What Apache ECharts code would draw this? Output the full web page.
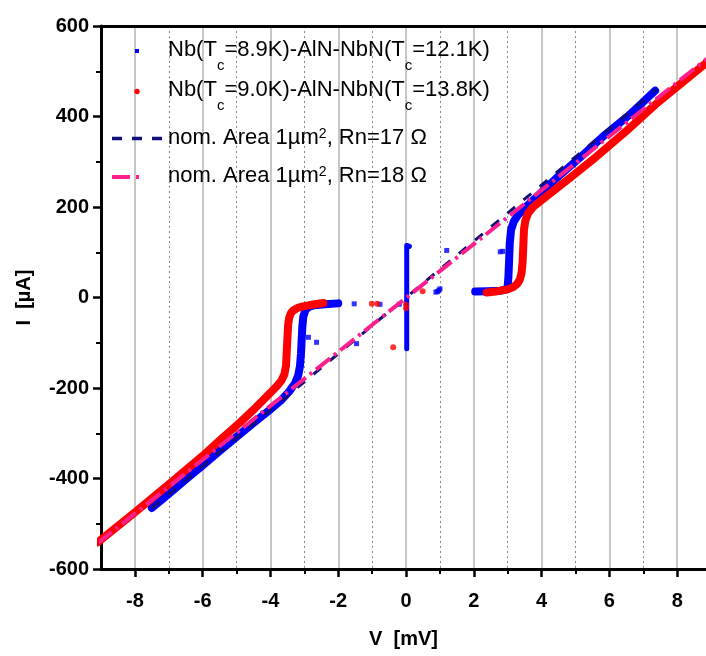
<!DOCTYPE html>
<html><head><meta charset="utf-8">
<script src="https://cdn.jsdelivr.net/npm/echarts@6/dist/echarts.min.js"></script>
<style>html,body{margin:0;padding:0;background:#fff}#c{width:706px;height:656px}</style>
</head><body><div id="c"></div>
<script>
// ---- tick values ----
const xTicksMajor = [-8, -6, -4, -2, 0, 2, 4, 6, 8];
const xTicksMinor = [-7, -5, -3, -1, 1, 3, 5, 7];

// ---- Nb(Tc=8.9K)-AlN-NbN(Tc=12.1K) (blue) ----
const blueNegV = [-7.5,-7.0,-6.5,-6.0,-5.5,-5.0,-4.5,-4.0,-3.7,-3.45,-3.28,-3.18,-3.13,-3.1,-3.08,-3.06,-3.03,-2.97,-2.88,-2.7,-2.4,-2.0];
const blueNegI = [-465,-434,-402,-371,-339,-308,-277,-247,-228,-208,-190,-172,-152,-125,-95,-65,-42,-28,-21,-17,-15,-13];
const bluePosV = [2.04,2.4,2.8,2.96,3.0,3.02,3.04,3.06,3.1,3.18,3.3,3.5,3.8,4.1,4.5,5.1,5.8,6.6,7.35];
const bluePosI = [13,14,15,18,26,45,80,120,150,168,182,198,218,240,268,307,355,404,457];
const blueSuperV = [0.02, 0.02, 0.1];
const blueSuperI = [-113, 115, 113];
const blueDotV = [-2.88,-2.64,-1.53,-1.46,-0.77,-0.2,1.2,2.78,2.85,0.88,0.93,0.97,1.0];
const blueDotI = [-88,-99,-14,-102,-15,-15,104,101,102,12,13,16,19];

// ---- Nb(Tc=9.0K)-AlN-NbN(Tc=13.8K) (red) ----
const redNegV = [-9.1,-8.0,-7.0,-6.0,-5.5,-5.0,-4.5,-4.1,-3.85,-3.68,-3.59,-3.54,-3.52,-3.5,-3.48,-3.45,-3.4,-3.32,-3.2,-3.0,-2.7,-2.44];
const redNegI = [-541,-475,-413,-350,-316,-283,-248,-218,-199,-184,-170,-150,-120,-90,-62,-45,-35,-28,-23,-19,-15,-12];
const redPosV = [2.38,2.7,3.0,3.16,3.28,3.36,3.41,3.44,3.46,3.48,3.52,3.6,3.75,4.15,4.8,5.5,6.5,7.35,8.2,9.0];
const redPosI = [11,14,18,23,30,40,55,80,115,150,170,186,200,224,262,304,368,426,478,527];
const redDotV = [-1.01,-0.85,-0.38,0.49,0.0,0.0];
const redDotI = [-14,-14,-110,14,-16,-24];

// ---- nominal lines ----
const nom17V = [-7.5, 7.4];
const nom17I = [-466, 460];
const nom18V = [-9.1, 9.0];
const nom18I = [-543, 535];

const pair = (xs, ys) => xs.map((x, i) => [x, ys[i]]);

const chart = echarts.init(document.getElementById('c'), null, {renderer: 'canvas'});
const BLUE = '#0000ff', RED = '#ff0000', NAVY = '#10107a', PINK = '#ff1f8c';
const axisFont = {fontFamily: 'Liberation Sans, Arial, sans-serif', fontWeight: 'bold', fontSize: 20, color: '#000'};

const lineSeries = (data, color, width, z) => ({
  type: 'line', data, xAxisIndex: 0, yAxisIndex: 0, showSymbol: false, symbol: 'none',
  lineStyle: {color, width, cap: 'round', join: 'round'}, z, silent: true, animation: false
});

const rich = {
  n: {fontFamily: 'Liberation Sans, Arial, sans-serif', fontSize: 22, lineHeight: 26, verticalAlign: 'top', color: '#000'},
  s: {fontFamily: 'Liberation Sans, Arial, sans-serif', fontSize: 15, lineHeight: 15, padding: [19, 0, 0, 0], verticalAlign: 'top', color: '#000'},
  p: {fontFamily: 'Liberation Sans, Arial, sans-serif', fontSize: 14, lineHeight: 14, verticalAlign: 'top', color: '#000'}
};

chart.setOption({
  animation: false,
  backgroundColor: '#fff',
  grid: {left: 101, right: 0, top: 26, bottom: 87, containLabel: false},
  xAxis: [
    {type: 'value', min: -9, max: 8.85, position: 'bottom',
     axisLine: {onZero: false, lineStyle: {color: '#000', width: 3}},
     axisTick: {customValues: xTicksMajor, length: 8, lineStyle: {color: '#000', width: 2.5}},
     axisLabel: {customValues: xTicksMajor, margin: 22, ...axisFont},
     splitLine: {show: true, lineStyle: {color: '#b4b4b4', width: 1.5, type: 'solid'}},
     name: 'V  [mV]', nameLocation: 'middle', nameGap: 60, nameTextStyle: axisFont},
    {type: 'value', min: -9, max: 8.85, position: 'bottom',
     axisLine: {show: false, onZero: false},
     axisTick: {customValues: xTicksMinor, length: 5, lineStyle: {color: '#000', width: 2}},
     axisLabel: {show: false, customValues: xTicksMinor},
     splitLine: {show: true, lineStyle: {color: '#8c8c8c', width: 1, type: [2, 3]}}},
    {type: 'value', min: -9, max: 8.85, position: 'top',
     axisLine: {show: true, onZero: false, lineStyle: {color: '#000', width: 3}},
     axisTick: {show: false}, axisLabel: {show: false}, splitLine: {show: false}}
  ],
  yAxis: [
    {type: 'value', min: -600, max: 600, interval: 200,
     axisLine: {show: true, onZero: false, lineStyle: {color: '#000', width: 3}},
     axisTick: {show: true, length: 8, lineStyle: {color: '#000', width: 2.5}},
     minorTick: {show: true, splitNumber: 2, length: 5, lineStyle: {color: '#000', width: 2}},
     axisLabel: {margin: 12, ...axisFont},
     splitLine: {show: false},
     name: 'I  [µA]', nameLocation: 'middle', nameGap: 67, nameTextStyle: axisFont}
  ],
  series: [
    lineSeries(pair(blueNegV, blueNegI), BLUE, 8, 2),
    lineSeries(pair(bluePosV, bluePosI), BLUE, 8, 2),
    lineSeries(pair(blueSuperV, blueSuperI), BLUE, 5, 2),
    {type: 'scatter', data: pair(blueDotV, blueDotI), symbol: 'rect', symbolSize: 5, itemStyle: {color: BLUE}, z: 2, silent: true},
    lineSeries(pair(redNegV, redNegI), RED, 8, 3),
    lineSeries(pair(redPosV, redPosI), RED, 8, 3),
    {type: 'scatter', data: pair(redDotV, redDotI), symbol: 'circle', symbolSize: 6, itemStyle: {color: RED}, z: 3, silent: true},
    {type: 'line', data: pair(nom17V, nom17I), showSymbol: false, symbol: 'none', z: 4, silent: true,
     lineStyle: {color: NAVY, width: 3, type: [10, 11]}},
    {type: 'line', data: pair(nom18V, nom18I), showSymbol: false, symbol: 'none', z: 5, silent: true,
     lineStyle: {color: PINK, width: 4, type: [18, 5, 3, 5]}}
  ],
  graphic: [
    {type: 'rect', shape: {x: 135, y: 49, width: 4, height: 4}, style: {fill: BLUE}, z: 10},
    {type: 'circle', shape: {cx: 137, cy: 91.5, r: 2.7}, style: {fill: RED}, z: 10},
    {type: 'line', shape: {x1: 112, y1: 138.5, x2: 162, y2: 138.5}, style: {stroke: NAVY, lineWidth: 3.5, lineDash: [10, 10]}, z: 10},
    {type: 'line', shape: {x1: 112, y1: 177, x2: 140, y2: 177}, style: {stroke: PINK, lineWidth: 4, lineDash: [18, 6, 3, 10]}, z: 10},
    {type: 'text', x: 168, y: 39, z: 10, style: {text: '{n|Nb(T}{s|c}{n|=8.9K)-AlN-NbN(T}{s|c}{n|=12.1K)}', rich, verticalAlign: 'top'}},
    {type: 'text', x: 168, y: 79, z: 10, style: {text: '{n|Nb(T}{s|c}{n|=9.0K)-AlN-NbN(T}{s|c}{n|=13.8K)}', rich, verticalAlign: 'top'}},
    {type: 'text', x: 168, y: 127, z: 10, style: {text: '{n|nom. Area 1µm}{p|2}{n|, Rn=17 Ω}', rich, verticalAlign: 'top'}},
    {type: 'text', x: 168, y: 165, z: 10, style: {text: '{n|nom. Area 1µm}{p|2}{n|, Rn=18 Ω}', rich, verticalAlign: 'top'}}
  ]
});
</script>
</body></html>
